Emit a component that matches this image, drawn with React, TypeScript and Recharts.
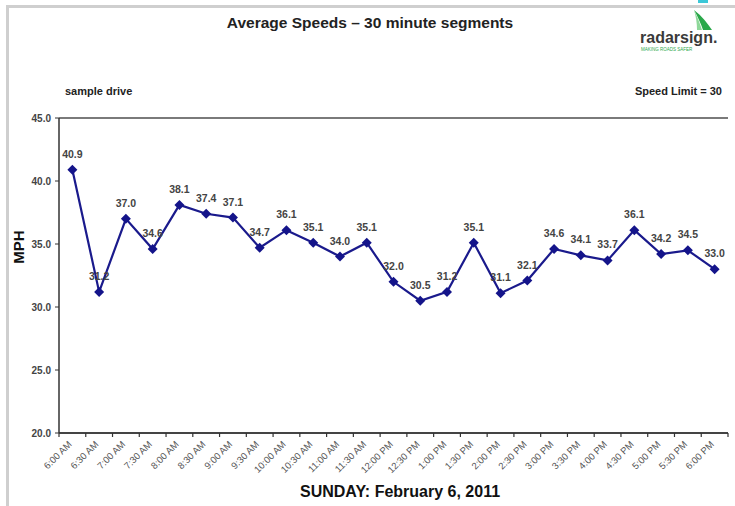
import React from 'react';
import { LineChart, Line, XAxis, YAxis, CartesianGrid, LabelList } from 'recharts';

const categories = ['6:00 AM','6:30 AM','7:00 AM','7:30 AM','8:00 AM','8:30 AM','9:00 AM','9:30 AM','10:00 AM','10:30 AM','11:00 AM','11:30 AM','12:00 PM','12:30 PM','1:00 PM','1:30 PM','2:00 PM','2:30 PM','3:00 PM','3:30 PM','4:00 PM','4:30 PM','5:00 PM','5:30 PM','6:00 PM'];
const speeds = [40.9,31.2,37.0,34.6,38.1,37.4,37.1,34.7,36.1,35.1,34.0,35.1,32.0,30.5,31.2,35.1,31.1,32.1,34.6,34.1,33.7,36.1,34.2,34.5,33.0];
const yTicks = [20,25,30,35,40,45];

const data = categories.map((c, i) => ({ time: c, mph: speeds[i] }));

const FONT = 'Arial, "Liberation Sans", sans-serif';

const Diamond = (props: any) => {
  const { cx, cy } = props;
  if (cx == null || cy == null) return null;
  const r = 5;
  return <path d={`M${cx},${cy - r}L${cx + r},${cy}L${cx},${cy + r}L${cx - r},${cy}Z`} fill="#14148a" stroke="none" />;
};

const XTick = (props: any) => {
  const { x, y, payload, index } = props;
  const band = 669 / categories.length;
  const ay = 433;
  return (
    <g>
      <line x1={x - band / 2} y1={ay} x2={x - band / 2} y2={ay + 4} stroke="#333" strokeWidth={1.2} />
      {index === categories.length - 1 && (
        <line x1={x + band / 2} y1={ay} x2={x + band / 2} y2={ay + 4} stroke="#333" strokeWidth={1.2} />
      )}
      <text x={x} y={y} transform={`rotate(-45 ${x} ${y})`} textAnchor="end" fontSize={9.5} fill="#555" fontFamily={FONT}>
        {payload.value}
      </text>
    </g>
  );
};

export default function App() {
  return (
    <div style={{ position: 'absolute', left: 0, top: 0, width: 735, height: 506, background: '#fff', overflow: 'hidden', fontFamily: FONT }}>
      <div style={{ position: 'absolute', left: 6, top: 5, width: 740, height: 520, borderLeft: '3px solid #cfcfcf', borderTop: '3px solid #cfcfcf' }} />
      <div style={{ position: 'absolute', left: 698, top: 0, width: 10, height: 3, background: '#3cc8d8' }} />
      <div style={{ position: 'absolute', left: 0, width: 740, top: 14, textAlign: 'center', fontWeight: 'bold', fontSize: 15.5, color: '#222' }}>
        Average Speeds – 30 minute segments
      </div>
      <svg style={{ position: 'absolute', left: 630, top: 8 }} width={100} height={50}>
        <path d="M64,2 C72,8 78,16 82,22 L73,22 C71,16 68,9 64,2 Z" fill="#2aa84a" />
        <path d="M64,2 C68,10 70,16 72,22 L67,22 C67,15 66,9 64,2 Z" fill="#8fd89a" />
        <text x={10} y={35} fontSize={16} fontWeight="bold" fill="#3a3a3a" fontFamily={FONT}>radarsign.</text>
        <text x={11} y={43} fontSize={4.5} fill="#2aa84a" fontFamily={FONT}>MAKING ROADS SAFER</text>
      </svg>
      <div style={{ position: 'absolute', left: 65, top: 85, fontWeight: 'bold', fontSize: 11, color: '#222' }}>sample drive</div>
      <div style={{ position: 'absolute', right: 13, top: 85, fontWeight: 'bold', fontSize: 11, color: '#222' }}>Speed Limit = 30</div>
      <div style={{ position: 'absolute', left: 18, top: 247, transform: 'translate(-50%,-50%) rotate(-90deg)', fontWeight: 'bold', fontSize: 15, color: '#111' }}>MPH</div>
      <div style={{ position: 'absolute', left: 0, width: 800, top: 483, textAlign: 'center', fontWeight: 'bold', fontSize: 16, color: '#111' }}>
        SUNDAY: February 6, 2011
      </div>
      <div style={{ position: 'absolute', left: 0, top: 0 }}>
        <LineChart width={735} height={506} data={data} margin={{ top: 118, right: 7, bottom: 23, left: 14 }}>
          <CartesianGrid vertical={false} stroke="#7a7a7a" strokeWidth={2} />
          <XAxis
            dataKey="time"
            scale="band"
            interval={0}
            tick={<XTick />}
            tickLine={false}
            axisLine={{ stroke: '#333', strokeWidth: 1.5 }}
            height={50}
            tickMargin={6}
          />
          <YAxis
            yAxisId="l"
            domain={[20, 45]}
            ticks={yTicks}
            tickFormatter={(v: number) => v.toFixed(1)}
            width={45}
            tick={{ fontSize: 10, fontWeight: 'bold', fill: '#444', fontFamily: FONT }}
            tickSize={4}
            tickMargin={4}
            axisLine={{ stroke: '#333', strokeWidth: 1.5 }}
            tickLine={{ stroke: '#333' }}
          />
          <YAxis
            yAxisId="r"
            orientation="right"
            domain={[20, 45]}
            ticks={yTicks}
            width={0}
            tick={false}
            tickLine={false}
            axisLine={{ stroke: '#aaa', strokeWidth: 1.5 }}
          />
          <Line
            yAxisId="l"
            type="linear"
            dataKey="mph"
            stroke="#1a1a8c"
            strokeWidth={2.2}
            dot={<Diamond />}
            activeDot={false}
            isAnimationActive={false}
          >
            <LabelList dataKey="mph" position="top" offset={12} formatter={(v: number) => v.toFixed(1)} style={{ fontSize: 10.5, fontWeight: 'bold', fill: '#444', fontFamily: FONT }} />
          </Line>
        </LineChart>
      </div>
    </div>
  );
}
